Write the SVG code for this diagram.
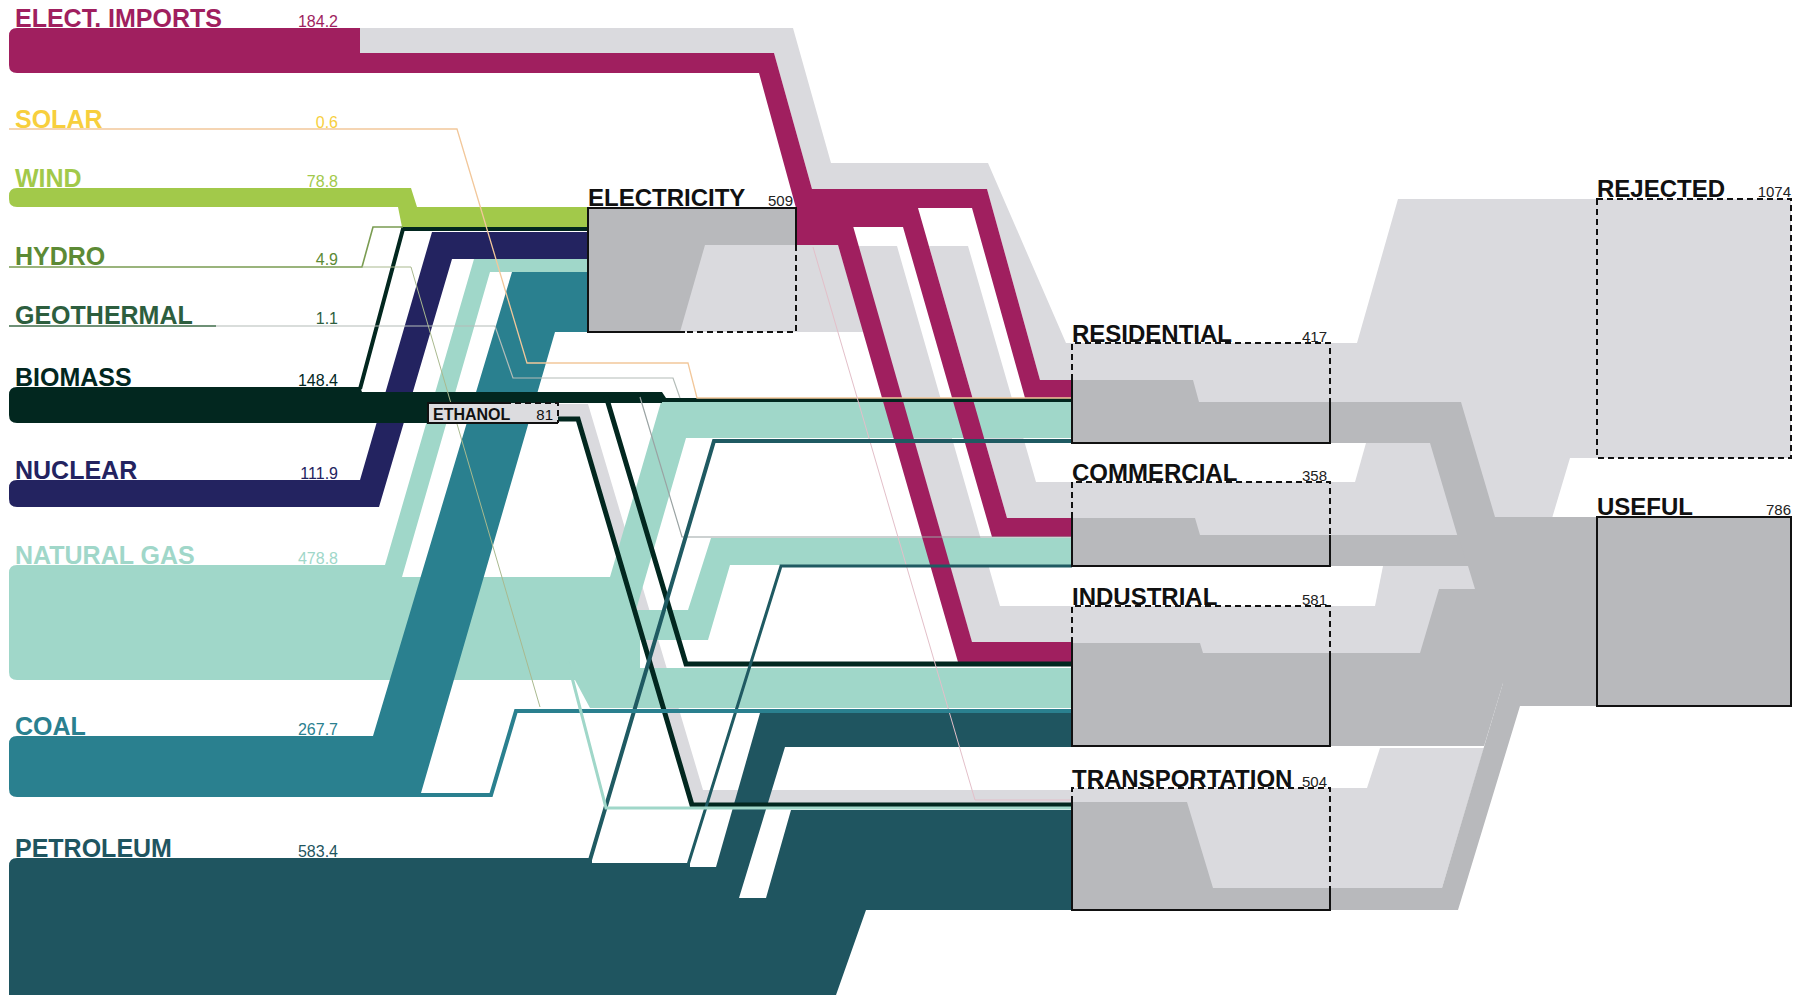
<svg xmlns="http://www.w3.org/2000/svg" width="1808" height="995" viewBox="0 0 1808 995">
<style>
.lbl{font-family:"Liberation Sans",Arial,sans-serif;font-weight:bold;font-size:25px}
.slbl{font-family:"Liberation Sans",Arial,sans-serif;font-weight:bold;font-size:24px;fill:#111}
.val{font-family:"Liberation Sans",Arial,sans-serif;font-size:16px;text-anchor:end}
.sval{font-family:"Liberation Sans",Arial,sans-serif;font-size:15px;text-anchor:end;fill:#222}
.lg{fill:#dadade}
.dg{fill:#b8b9bc}
.mag{fill:#a01f5f}
.ln{fill:none;stroke-linejoin:miter}
.solid{fill:none;stroke:#111;stroke-width:2}
.dash{fill:none;stroke:#111;stroke-width:2;stroke-dasharray:6 4}
</style>
<rect width="1808" height="995" fill="#ffffff"/>

<g id="connectors">
  <path class="lg" d="M360,28 H793 L831,163 H988 L1066,343 H1072 V380 H1040 L987,189 H812 L774,53 H360 Z"/>
  <path class="lg" d="M929,246 H968 L1036,482 H1072 V518 H1007 Z"/>
  <path class="lg" d="M858,246 H897 L1000,606 H1072 V643 H972 Z"/>
  <path class="lg" d="M796,245 H838 L864,332 H796 Z"/>
  <path class="lg" d="M558,404 H588 L703,790 H1072 V803 H692 L580,418 H558 Z"/>

  <path class="lg" d="M1330,343 H1357 L1398,199 H1597 V458 H1570 L1484,746 H1330 Z"/>
  <path class="lg" d="M1330,788 H1367 L1380,748 H1484 L1442,888 H1330 Z"/>
  <path fill="#ffffff" d="M1330,443 H1366 L1355,482 H1330 Z"/>
  <path fill="#ffffff" d="M1330,566 H1383 L1375,606 H1330 Z"/>
  <path class="dg" d="M1330,402 H1461 L1495,517 H1597 V558 H1464 L1430,443 H1330 Z"/>
  <path class="dg" d="M1330,535 H1458 L1465,558 H1597 V589 H1475 L1468,566 H1330 Z"/>
  <path class="dg" d="M1330,653 H1420 L1439,589 H1597 V683 H1503 L1484,746 H1330 Z"/>
  <path class="dg" d="M1330,888 H1442 L1503,683 H1597 V706 H1520 L1458,910 H1330 Z"/>

  <path fill="#a0d7c9" d="M17,565 H385 L474,259 H588 V272 H490 L402,577 H610 L661,402 H1072 V438 H686 L636,610 H688 L711,538 H1072 V565 H730 L708,640 H640 V668 H1072 V708 H590 L575,680 H17 Q9,680 9,672 V573 Q9,565 17,565 Z"/>
  <path fill="#2a808f" d="M17,736 H373 L512,272 H588 V332 H555 L421,793 L419,797 H17 Q9,797 9,789 V744 Q9,736 17,736 Z"/>
  <path fill="#1f5560" d="M17,858 H592 V863 H690 V867 H716 L760,713 H1072 V747 H785 L739,898 H766 L791,810 H1072 V910 H866 L836,995 H9 V866 Q9,858 17,858 Z"/>
  <path fill="#232360" d="M17,480 H360 L432,232 H588 V259 H452 L379,507 H17 Q9,507 9,499 V488 Q9,480 17,480 Z"/>
  <path fill="#a2c94a" d="M17,188 H411 L417,207 H588 V227 H402 L398,207 H17 Q9,207 9,199 V196 Q9,188 17,188 Z"/>
  <path class="mag" d="M17,28 H360 V53 H774 L812,189 L812,208 L796,208 L759,73 H17 Q9,73 9,65 V36 Q9,28 17,28 Z"/>
  <path class="mag" d="M812,189 H987 L1040,380 H1072 V398 H1025 L972,208 H812 Z"/>
  <path class="mag" d="M796,208 H918 L1007,518 H1072 V537 H992 L903,227 H796 Z"/>
  <path class="mag" d="M796,226 H853 L972,642 H1072 V662 H958 L838,245 H796 Z"/>
  <path fill="#02271f" d="M17,387 H360 L362,392 H662 L666,398 H1072 V402 H662 V403 H428 V423 H17 Q9,423 9,415 V395 Q9,387 17,387 Z"/>
  <polyline class="ln" stroke="#02271f" stroke-width="4" points="360,389 403,229 588,229"/>
  <polyline class="ln" stroke="#02271f" stroke-width="5" points="606,396 686,664 1072,664"/>
  <polyline class="ln" stroke="#02271f" stroke-width="5" points="558,419 578,419 692,805 1072,805"/>

  <polyline class="ln" stroke="#f2c79a" stroke-width="1.3" points="9,129 457,129 527,363 688,363 697,398 1072,398"/>
  <polyline class="ln" stroke="#7a9c52" stroke-width="1.6" points="9,267 362,267 373,227 403,227"/>
  <polyline class="ln" stroke="#a9b98f" stroke-width="1" points="362,267 411,267 540,707"/>
  <polyline class="ln" stroke="#3e6b48" stroke-width="1.6" points="9,326 216,326"/>
  <polyline class="ln" stroke="#b3bcb8" stroke-width="1.2" points="216,326 495,326 513,378 673,378 680,398"/>
  <polyline class="ln" stroke="#9aa3a3" stroke-width="1.2" points="640,397 682,537 1072,537"/>
  <polyline class="ln" stroke="#e3bfc9" stroke-width="1" points="813,247 975,800 1072,800"/>
  <polyline class="ln" stroke="#1f5a62" stroke-width="4" points="590,860 714,441 1072,441"/>
  <polyline class="ln" stroke="#1f5a62" stroke-width="3" points="688,865 781,566 1072,566"/>
  <polyline class="ln" stroke="#2a808f" stroke-width="4" points="419,795 491,795 516,711 1072,711"/>
  <polyline class="ln" stroke="#a0d7c9" stroke-width="3" points="568,662 606,808 1072,808"/>
</g>

<g id="elect-imports">
  <text class="lbl" x="15" y="27" fill="#a01f5f">ELECT. IMPORTS</text>
  <text class="val" x="338" y="27" fill="#a01f5f">184.2</text>
</g>
<g id="solar">
  <text class="lbl" x="15" y="128" fill="#f7cf3d">SOLAR</text>
  <text class="val" x="338" y="128" fill="#f7cf3d">0.6</text>
</g>
<g id="wind">
  <text class="lbl" x="15" y="187" fill="#a2c94a">WIND</text>
  <text class="val" x="338" y="187" fill="#a2c94a">78.8</text>
</g>
<g id="hydro">
  <text class="lbl" x="15" y="265" fill="#5c8a35">HYDRO</text>
  <text class="val" x="338" y="265" fill="#5c8a35">4.9</text>
</g>
<g id="geothermal">
  <text class="lbl" x="15" y="324" fill="#2d5e3e">GEOTHERMAL</text>
  <text class="val" x="338" y="324" fill="#2d5e3e">1.1</text>
</g>
<g id="biomass">
  <text class="lbl" x="15" y="386" fill="#02271f">BIOMASS</text>
  <text class="val" x="338" y="386" fill="#02271f">148.4</text>
</g>
<g id="nuclear">
  <text class="lbl" x="15" y="479" fill="#232360">NUCLEAR</text>
  <text class="val" x="338" y="479" fill="#232360">111.9</text>
</g>
<g id="natural-gas">
  <text class="lbl" x="15" y="564" fill="#a0d7c9">NATURAL GAS</text>
  <text class="val" x="338" y="564" fill="#a0d7c9">478.8</text>
</g>
<g id="coal">
  <text class="lbl" x="15" y="735" fill="#2a808f">COAL</text>
  <text class="val" x="338" y="735" fill="#2a808f">267.7</text>
</g>
<g id="petroleum">
  <text class="lbl" x="15" y="857" fill="#1f5560">PETROLEUM</text>
  <text class="val" x="338" y="857" fill="#1f5560">583.4</text>
</g>

<g id="ethanol">
  <rect x="428" y="403" width="130" height="20" fill="#dcdcdf"/>
  <path class="solid" stroke-width="1.5" d="M505,403 H428 V423 H558"/>
  <path class="dash" stroke-width="1.5" d="M505,403 H558 V423"/>
  <text x="433" y="420" font-family="Liberation Sans, Arial, sans-serif" font-weight="bold" font-size="16" fill="#111">ETHANOL</text>
  <text x="553" y="420" font-family="Liberation Sans, Arial, sans-serif" font-size="15" text-anchor="end" fill="#111">81</text>
</g>

<g id="electricity">
  <rect class="dg" x="588" y="208" width="208" height="124"/>
  <path class="lg" d="M705,245 H796 V332 H680 Z"/>
  <path class="solid" d="M685,332 H588 V208 H796 V245"/>
  <path class="dash" d="M796,245 V332 H685"/>
  <text class="slbl" x="588" y="206">ELECTRICITY</text>
  <text class="sval" x="793" y="206">509</text>
</g>

<g id="residential">
  <rect class="lg" x="1072" y="343" width="258" height="100"/>
  <path class="dg" d="M1072,380 H1193 L1199,402 H1330 V443 H1072 Z"/>
  <path class="dash" d="M1072,380 V343 H1330 V402"/>
  <path class="solid" d="M1330,402 V443 H1072 V380"/>
  <text class="slbl" x="1072" y="342">RESIDENTIAL</text>
  <text class="sval" x="1327" y="342">417</text>
</g>
<g id="commercial">
  <rect class="lg" x="1072" y="482" width="258" height="84"/>
  <path class="dg" d="M1072,518 H1195 L1200,535 H1330 V566 H1072 Z"/>
  <path class="dash" d="M1072,518 V482 H1330 V535"/>
  <path class="solid" d="M1330,535 V566 H1072 V518"/>
  <text class="slbl" x="1072" y="481">COMMERCIAL</text>
  <text class="sval" x="1327" y="481">358</text>
</g>
<g id="industrial">
  <rect class="lg" x="1072" y="606" width="258" height="140"/>
  <path class="dg" d="M1072,643 H1200 L1203,653 H1330 V746 H1072 Z"/>
  <path class="dash" d="M1072,643 V606 H1330 V653"/>
  <path class="solid" d="M1330,653 V746 H1072 V643"/>
  <text class="slbl" x="1072" y="605">INDUSTRIAL</text>
  <text class="sval" x="1327" y="605">581</text>
</g>
<g id="transportation">
  <rect class="lg" x="1072" y="788" width="258" height="122"/>
  <path class="dg" d="M1072,802 H1187 L1213,888 H1330 V910 H1072 Z"/>
  <path class="dash" d="M1072,802 V788 H1330 V888"/>
  <path class="solid" d="M1330,888 V910 H1072 V802"/>
  <text class="slbl" x="1072" y="787">TRANSPORTATION</text>
  <text class="sval" x="1327" y="787">504</text>
</g>

<g id="rejected">
  <rect x="1597" y="199" width="194" height="259" fill="#dadade" stroke="#111" stroke-width="2" stroke-dasharray="6 4"/>
  <text class="slbl" x="1597" y="197">REJECTED</text>
  <text class="sval" x="1791" y="197">1074</text>
</g>
<g id="useful">
  <rect x="1597" y="517" width="194" height="189" fill="#b8b9bc" stroke="#111" stroke-width="2"/>
  <text class="slbl" x="1597" y="515">USEFUL</text>
  <text class="sval" x="1791" y="515">786</text>
</g>
</svg>
